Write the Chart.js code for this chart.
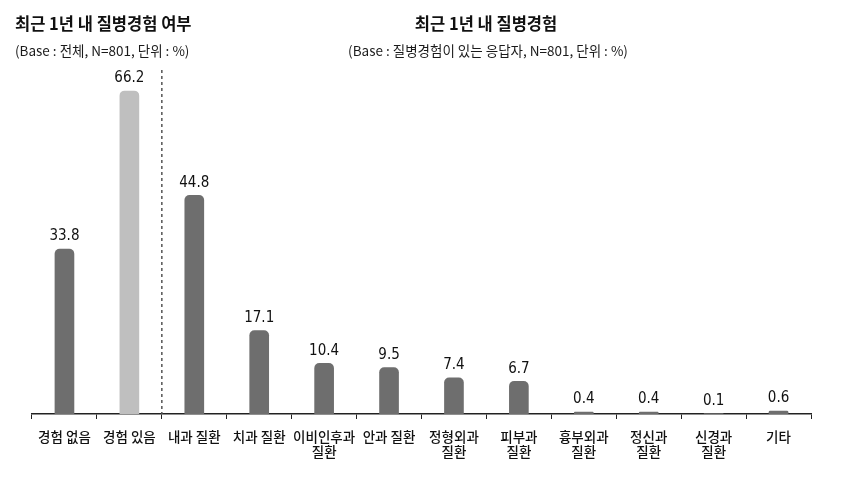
<!DOCTYPE html>
<html>
<head>
<meta charset="utf-8">
<script src="https://cdn.jsdelivr.net/npm/chart.js@4"></script>
<style>
  html, body { margin: 0; padding: 0; background: #fff; }
  #wrap { position: relative; width: 860px; height: 477px; }
  canvas { position: absolute; left: 0; top: 0; }
  .t { position: absolute; font-family: "Noto Sans CJK KR", sans-serif; color: #111; white-space: nowrap; }
  .title { font-size: 16.5px; font-weight: bold; }
  .sub { font-size: 13.5px; color: #1a1a1a; }
</style>
</head>
<body>
<div id="wrap">
  <canvas id="c" width="860" height="477"></canvas>
  <div class="t title" style="left:15px; top:11px;">최근 1년 내 질병경험 여부</div>
  <div class="t sub" style="left:15px; top:40px;">(Base : 전체, N=801, 단위 : %)</div>
  <div class="t title" style="left:486px; top:11px; transform:translateX(-50%);">최근 1년 내 질병경험</div>
  <div class="t sub" style="left:488px; top:40px; transform:translateX(-50%);">(Base : 질병경험이 있는 응답자, N=801, 단위 : %)</div>
</div>
<script>
const categories = [
  ["경험 없음"], ["경험 있음"], ["내과 질환"], ["치과 질환"], ["이비인후과", "질환"],
  ["안과 질환"], ["정형외과", "질환"], ["피부과", "질환"], ["흉부외과", "질환"],
  ["정신과", "질환"], ["신경과", "질환"], ["기타"]
];
const values = [33.8, 66.2, 44.8, 17.1, 10.4, 9.5, 7.4, 6.7, 0.4, 0.4, 0.1, 0.6];
const valueLabels = ["33.8", "66.2", "44.8", "17.1", "10.4", "9.5", "7.4", "6.7", "0.4", "0.4", "0.1", "0.6"];
const barColors = values.map((v, i) => i === 1 ? "#bfbfbf" : "#6e6e6e");

const valueLabelPlugin = {
  id: "valueLabels",
  afterDatasetsDraw(chart) {
    const ctx = chart.ctx;
    const meta = chart.getDatasetMeta(0);
    ctx.save();
    ctx.font = "15px 'DejaVu Sans Condensed', 'DejaVu Sans', sans-serif";
    ctx.fillStyle = "#111";
    ctx.textAlign = "center";
    ctx.textBaseline = "bottom";
    meta.data.forEach((bar, i) => {
      ctx.fillText(valueLabels[i], bar.x, bar.y - 5);
    });
    ctx.restore();
  }
};

const dividerPlugin = {
  id: "divider",
  afterDraw(chart) {
    const xs = chart.scales.x;
    const x = (xs.getPixelForValue(1) + xs.getPixelForValue(2)) / 2;
    const ctx = chart.ctx;
    ctx.save();
    ctx.strokeStyle = "#555";
    ctx.lineWidth = 1.5;
    ctx.setLineDash([3, 3]);
    ctx.beginPath();
    ctx.moveTo(x, 70);
    ctx.lineTo(x, chart.chartArea.bottom);
    ctx.stroke();
    ctx.restore();
  }
};

new Chart(document.getElementById("c"), {
  type: "bar",
  data: {
    labels: categories,
    datasets: [{
      data: values,
      backgroundColor: barColors,
      barThickness: 19,
      borderRadius: { topLeft: 5, topRight: 5, bottomLeft: 0, bottomRight: 0 },
      borderSkipped: false
    }]
  },
  options: {
    responsive: false,
    animation: false,
    layout: { padding: { left: 32, right: 49, top: 70, bottom: 0 } },
    plugins: { legend: { display: false }, tooltip: { enabled: false } },
    scales: {
      y: { display: false, min: 0, max: 70.5 },
      x: {
        offset: true,
        afterFit(scale) { scale.height = 63; },
        grid: { drawOnChartArea: false, drawTicks: true, tickLength: 5, color: "#222", offset: true },
        border: { display: true, color: "#222", width: 1.5 },
        ticks: {
          padding: 10,
          color: "#111",
          font: { family: "'Noto Sans CJK KR', sans-serif", size: 13.5, weight: 500, lineHeight: 1.15 },
          maxRotation: 0, autoSkip: false
        }
      }
    }
  },
  plugins: [valueLabelPlugin, dividerPlugin]
});
</script>
</body>
</html>
